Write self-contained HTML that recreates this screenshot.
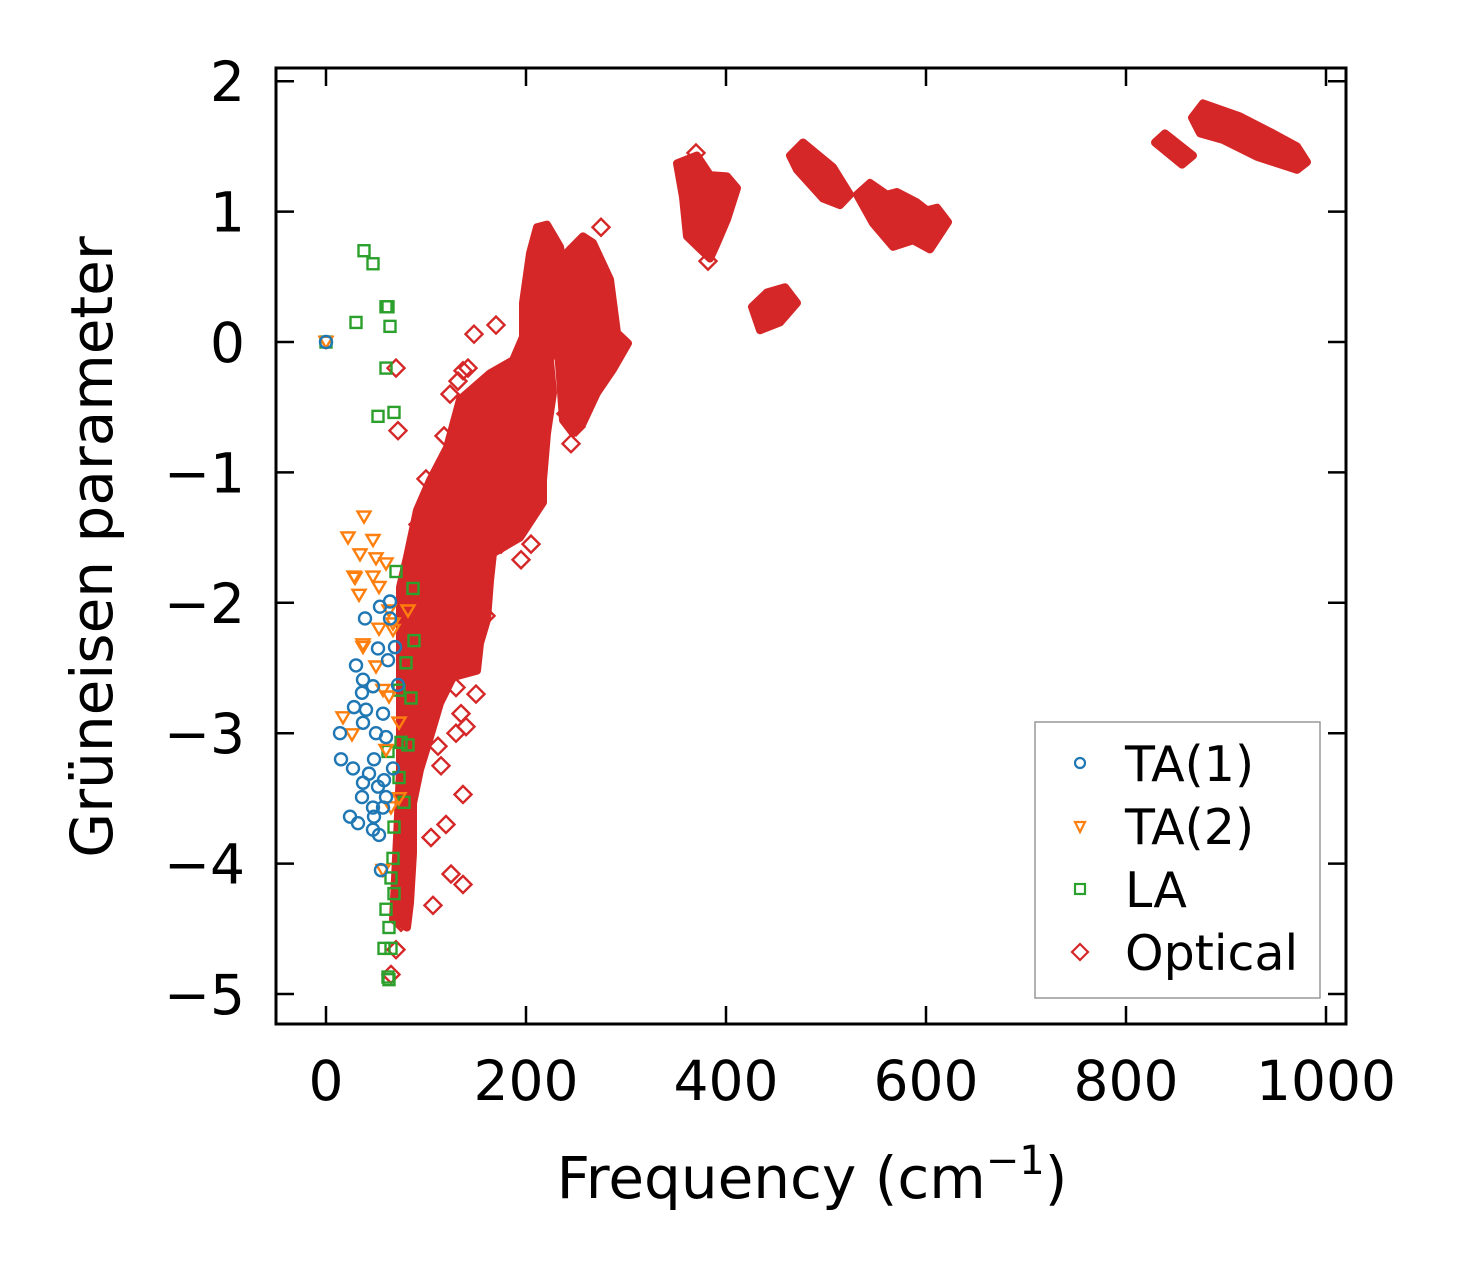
<!DOCTYPE html>
<html><head><meta charset="utf-8"><style>
body{margin:0;background:#fff}
svg{display:block;font-family:"DejaVu Sans","Liberation Sans",sans-serif}
</style></head><body>
<svg id="chart" width="1461" height="1272" viewBox="0 0 1461 1272">
<rect width="1461" height="1272" fill="#fff"/>
<g id="bands"></g>
<g id="marks"></g>
<g id="axes"></g>
</svg>
<script>
// ---- data ----
const xTicks = [0,200,400,600,800,1000];
const yTicks = [-5,-4,-3,-2,-1,0,1,2];
// dense optical regions: outline vertices (frequency, gamma)
const mainRegionX = [67,71,74,74,74,81,91,104,121,134,164,187,197,197,204,211,221,234,236,244,257,267,284,291,302,287,271,257,247,237,234,231,224,227,221,217,217,194,167,164,161,154,151,127,114,104,94,87,87,84,81];
const mainRegionY = [-4.43,-3.80,-3.28,-2.52,-1.88,-1.65,-1.29,-1.06,-0.81,-0.44,-0.24,-0.14,0.04,0.30,0.68,0.88,0.90,0.73,0.64,0.71,0.81,0.76,0.48,0.07,-0.01,-0.21,-0.39,-0.62,-0.70,-0.60,-0.27,0.04,-0.14,-0.39,-0.70,-1.06,-1.23,-1.50,-1.62,-1.83,-2.13,-2.31,-2.52,-2.57,-2.77,-3.03,-3.28,-3.54,-3.92,-4.30,-4.49];
const blobAX = [351,371,384,401,411,401,391,384,361,357];
const blobAY = [1.37,1.43,1.28,1.27,1.18,0.94,0.76,0.64,0.81,1.11];
const blobBX = [426,441,459,471,454,434];
const blobBY = [0.27,0.38,0.42,0.30,0.15,0.09];
const blobCX = [464,477,507,524,514,497,471];
const blobCY = [1.43,1.53,1.34,1.13,1.05,1.10,1.32];
const blobDX = [531,544,561,571,591,601,611,622,604,587,567,547];
const blobDY = [1.13,1.22,1.13,1.15,1.07,1.01,1.03,0.92,0.71,0.78,0.73,0.91];
const blobEX = [829,839,867,856];
const blobEY = [1.53,1.60,1.43,1.36];
const blobFX = [866,877,914,947,971,981,971,931,897,874];
const blobFY = [1.72,1.83,1.73,1.60,1.50,1.38,1.32,1.42,1.55,1.60];
// scatter series
const ta1X = [0,64,54,39,64,52,69,30,62,37,47,72,36,28,40,57,37,14,50,60,15,27,48,67,43,37,58,36,52,60,47,24,32,48,47,53,57,55];
const ta1Y = [0,-1.99,-2.03,-2.12,-2.12,-2.35,-2.34,-2.48,-2.44,-2.59,-2.64,-2.63,-2.69,-2.8,-2.82,-2.85,-2.92,-3.0,-3.0,-3.03,-3.2,-3.27,-3.2,-3.27,-3.31,-3.38,-3.36,-3.49,-3.41,-3.49,-3.57,-3.64,-3.69,-3.64,-3.74,-3.78,-3.57,-4.05];
const ta2X = [0,38,22,47,34,50,60,29,33,47,53,82,37,53,67,28,37,17,26,73,73,60,57,65,63,57,50,67,63];
const ta2Y = [0,-1.34,-1.5,-1.52,-1.63,-1.66,-1.7,-1.81,-1.94,-1.8,-1.88,-2.06,-2.34,-2.2,-2.16,-1.8,-2.32,-2.88,-3.01,-3.5,-2.92,-3.13,-4.05,-3.57,-2.72,-2.67,-2.49,-2.21,-2.06];
const laX = [0,38,47,62,60,30,64,60,52,68,70,87,88,80,85,82,62,73,78,68,67,65,68,60,63,58,65,62,63,75,73];
const laY = [0,0.7,0.6,0.27,0.27,0.15,0.12,-0.2,-0.57,-0.54,-1.76,-1.89,-2.29,-2.46,-2.73,-3.09,-3.14,-3.34,-3.53,-3.72,-3.96,-4.11,-4.23,-4.35,-4.49,-4.65,-4.65,-4.87,-4.89,-3.07,-2.67];
const optX = [370,382,275,70,72,148,170,137,124,100,110,115,120,125,137,107,137,130,140,105,75,70,65,245,195,205,150,135,250,240,118,108,92,142,132,160,175,200,130,112];
const optY = [1.45,0.62,0.88,-0.2,-0.68,0.06,0.13,-0.22,-0.4,-1.05,-1.5,-3.25,-3.7,-4.08,-4.16,-4.32,-3.47,-3.0,-2.95,-3.8,-4.45,-4.66,-4.85,-0.78,-1.67,-1.55,-2.7,-2.85,-0.65,-0.55,-0.72,-1.45,-1.4,-0.2,-0.3,-2.1,-1.55,-1.35,-2.65,-3.1];

// ---- axes ----
const X0=276,X1=1346,Y0=68,Y1=1024;
const xs = v => 326 + v*1.0;
const ys = v => 342 - v*130.4;
const NS="http://www.w3.org/2000/svg";
function mk(tag, parent, attrs){const e=document.createElementNS(NS,tag);for(const k in attrs)e.setAttribute(k,attrs[k]);parent.appendChild(e);return e;}
const bands=document.getElementById('bands'), marks=document.getElementById('marks'), axes=document.getElementById('axes');
const RED='#d62728', BLUE='#1f77b4', ORANGE='#ff7f0e', GREEN='#2ca02c';

function region(xa,ya,name){
  const pts=xa.map((x,i)=>xs(x)+','+ys(ya[i]));
  const p=mk('polygon',bands,{points:pts.join(' '),fill:RED,stroke:RED,'stroke-width':8,'stroke-linejoin':'round'});
  
  
}
region(mainRegionX,mainRegionY,'optical-region-main');
region(blobAX,blobAY,'optical-region-375');
region(blobBX,blobBY,'optical-region-450');
region(blobCX,blobCY,'optical-region-495');
region(blobDX,blobDY,'optical-region-575');
region(blobEX,blobEY,'optical-region-850');
region(blobFX,blobFY,'optical-region-920');

function diamond(cx,cy,s){return `${cx},${cy-s} ${cx+s},${cy} ${cx},${cy+s} ${cx-s},${cy}`;}
function tri(cx,cy,s){return `${cx-s},${cy-s*0.8} ${cx+s},${cy-s*0.8} ${cx},${cy+s*0.9}`;}
for(let i=0;i<optX.length;i++){
  const e=mk('polygon',marks,{points:diamond(xs(optX[i]),ys(optY[i]),8.5),fill:'none',stroke:RED,'stroke-width':2.4});
  
  
}
for(let i=0;i<laX.length;i++){
  const e=mk('rect',marks,{x:xs(laX[i])-5.5,y:ys(laY[i])-5.5,width:11,height:11,fill:'none',stroke:GREEN,'stroke-width':2.4});
  
  
}
for(let i=0;i<ta2X.length;i++){
  const e=mk('polygon',marks,{points:tri(xs(ta2X[i]),ys(ta2Y[i]),6.5),fill:'none',stroke:ORANGE,'stroke-width':2.4});
  
  
}
for(let i=0;i<ta1X.length;i++){
  const e=mk('circle',marks,{cx:xs(ta1X[i]),cy:ys(ta1Y[i]),r:6,fill:'none',stroke:BLUE,'stroke-width':2.4});
  
  
}

const fr=mk('rect',axes,{x:X0,y:Y0,width:X1-X0,height:Y1-Y0,fill:'none',stroke:'#000','stroke-width':3});


const TL=18;
xTicks.forEach(v=>{
  const x=xs(v);
  mk('line',axes,{x1:x,y1:Y1,x2:x,y2:Y1-TL,stroke:'#000','stroke-width':2.5});
  mk('line',axes,{x1:x,y1:Y0,x2:x,y2:Y0+TL,stroke:'#000','stroke-width':2.5});
  const t=mk('text',axes,{x:x,y:1100,'font-size':55,'text-anchor':'middle',fill:'#000'});
  t.textContent=String(v);
  
  
});
yTicks.forEach(v=>{
  const y=ys(v);
  mk('line',axes,{x1:X0,y1:y,x2:X0+TL,y2:y,stroke:'#000','stroke-width':2.5});
  mk('line',axes,{x1:X1,y1:y,x2:X1-TL,y2:y,stroke:'#000','stroke-width':2.5});
  const t=mk('text',axes,{x:245,y:y+20,'font-size':55,'text-anchor':'end',fill:'#000'});
  t.textContent=v<0?'\u2212'+(-v):String(v);
  
  
});
</script>
<svg style="position:absolute;left:0;top:0" width="1461" height="1272">
<text x="812" y="1198" font-size="58" text-anchor="middle" font-family="DejaVu Sans, Liberation Sans, sans-serif">Frequency (cm<tspan dy="-24" font-size="40">−1</tspan><tspan dy="24">)</tspan></text>
<text transform="translate(112,547) rotate(-90)" font-size="58" text-anchor="middle" font-family="DejaVu Sans, Liberation Sans, sans-serif">Grüneisen parameter</text>
<g font-family="DejaVu Sans, Liberation Sans, sans-serif" font-size="49">
<rect x="1035" y="722" width="285" height="276" fill="#fff" stroke="#999" stroke-width="1.5"/>
<circle cx="1080" cy="763" r="5" fill="none" stroke="#1f77b4" stroke-width="2.2"/>
<text x="1125" y="781">TA(1)</text>
<polygon points="1075,822 1085,822 1080,832" fill="none" stroke="#ff7f0e" stroke-width="2.2"/>
<text x="1125" y="844">TA(2)</text>
<rect x="1075" y="884" width="10" height="10" fill="none" stroke="#2ca02c" stroke-width="2.2"/>
<text x="1125" y="907">LA</text>
<polygon points="1080,944 1088,952 1080,960 1072,952" fill="none" stroke="#d62728" stroke-width="2.2"/>
<text x="1125" y="970">Optical</text>
</g>
</svg>
</body></html>
